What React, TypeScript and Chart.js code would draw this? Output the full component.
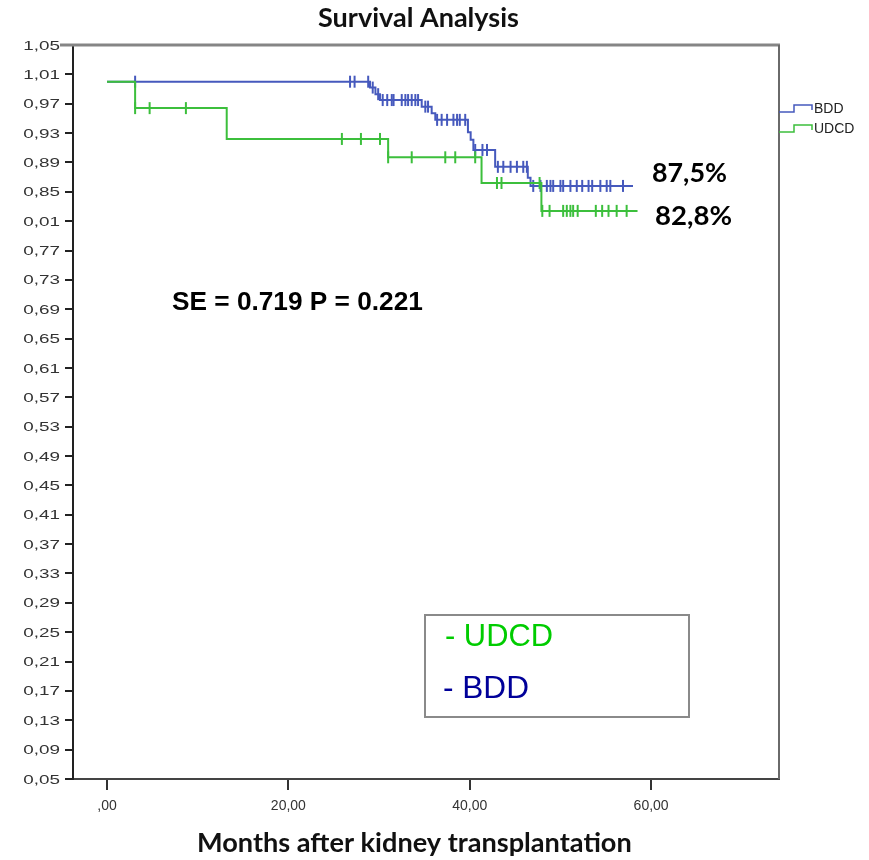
import React, { useEffect, useRef } from "react";
import { Chart, registerables } from "chart.js";
Chart.register(...registerables);

// ---- axis ticks ----
const xTickValues = [0, 20, 40, 60];
const xTickLabels = [",00", "20,00", "40,00", "60,00"];
const yTickValues = [1.05, 1.01, 0.97, 0.93, 0.89, 0.85, 0.81, 0.77, 0.73, 0.69, 0.65, 0.61, 0.57, 0.53, 0.49, 0.45, 0.41, 0.37, 0.33, 0.29, 0.25, 0.21, 0.17, 0.13, 0.09, 0.05];
const yTickLabels = ["1,05", "1,01", "0,97", "0,93", "0,89", "0,85", "0,01", "0,77", "0,73", "0,69", "0,65", "0,61", "0,57", "0,53", "0,49", "0,45", "0,41", "0,37", "0,33", "0,29", "0,25", "0,21", "0,17", "0,13", "0,09", "0,05"];

// ---- BDD survival steps ----
const bddTimes = [0, 29.0, 29.6, 30.1, 34.7, 35.8, 36.2, 39.8, 40.1, 40.4, 42.8, 46.4, 46.7, 58.0];
const bddSurv = [1.0, 0.992, 0.983, 0.975, 0.966, 0.957, 0.948, 0.931, 0.921, 0.907, 0.884, 0.869, 0.858, 0.858];
const bddCensor = [3.1, 26.8, 27.3, 28.8, 29.3, 29.9, 30.4, 30.9, 31.4, 31.6, 32.5, 32.9, 33.2, 33.6, 34.0, 34.3, 35.1, 35.4, 36.4, 36.9, 37.5, 38.2, 38.6, 38.9, 39.5, 40.6, 41.4, 41.9, 43.1, 43.7, 44.5, 45.2, 45.9, 46.3, 47.0, 47.8, 48.5, 48.9, 49.2, 50.0, 50.3, 51.1, 51.8, 52.4, 53.1, 53.5, 54.4, 55.1, 55.5, 56.9];

// ---- UDCD survival steps ----
const udcdTimes = [0, 3.1, 13.2, 31.0, 41.3, 47.9, 58.5];
const udcdSurv = [1.0, 0.964, 0.922, 0.897, 0.862, 0.824, 0.824];
const udcdCensor = [3.1, 4.7, 8.7, 25.9, 28.0, 30.1, 31.0, 33.6, 37.3, 38.4, 40.6, 43.0, 43.5, 47.7, 48.0, 48.8, 50.3, 50.7, 51.1, 51.4, 51.9, 53.9, 54.6, 55.3, 56.2, 57.3];

const seriesNames = ["BDD", "UDCD"];
const BLUE = "#4659bd";
const GREEN = "#3cbf3c";
const ARIAL = "'Liberation Sans', Arial, sans-serif";

function survAt(times: number[], surv: number[], t: number) {
  let s = surv[0];
  for (let i = 0; i < times.length; i++) if (times[i] <= t) s = surv[i];
  return s;
}

function fitText(ctx: CanvasRenderingContext2D, text: string, weight: string, family: string, x0: number, x1: number, cy: number, color: string) {
  ctx.font = `${weight} 20px ${family}`;
  const w = ctx.measureText(text).width;
  const size = (20 * (x1 - x0)) / w;
  ctx.font = `${weight} ${size}px ${family}`;
  ctx.fillStyle = color;
  ctx.textAlign = "left";
  ctx.textBaseline = "middle";
  ctx.fillText(text, x0, cy);
}

const overlay = {
  id: "overlay",
  afterDraw(chart: any) {
    const ctx: CanvasRenderingContext2D = chart.ctx;
    const a = chart.chartArea;
    ctx.save();
    // frame top/right
    ctx.strokeStyle = "#858585";
    ctx.lineWidth = 3;
    ctx.beginPath();
    ctx.moveTo(a.left - 13, a.top);
    ctx.lineTo(a.right + 1, a.top);
    ctx.stroke();
    ctx.strokeStyle = "#6a6a6a";
    ctx.lineWidth = 2;
    ctx.beginPath();
    ctx.moveTo(a.right, a.top);
    ctx.lineTo(a.right, a.bottom);
    ctx.stroke();

    // y tick labels (horizontally stretched as in the reference)
    const ys = chart.scales.y;
    ctx.fillStyle = "#333";
    ctx.font = `13px ${ARIAL}`;
    ctx.textAlign = "right";
    ctx.textBaseline = "middle";
    yTickValues.forEach((v, i) => {
      const py = ys.getPixelForValue(v);
      ctx.save();
      ctx.translate(a.left - 13, py + 1);
      ctx.scale(1.45, 1);
      ctx.fillText(yTickLabels[i], 0, 0);
      ctx.restore();
    });

    const calibri = "Lato, 'Open Sans', sans-serif";
    fitText(ctx, "Survival Analysis", "bold", calibri, 318, 519, 18, "#111");
    fitText(ctx, "Months after kidney transplantation", "bold", calibri, 197, 632, 843, "#111");
    fitText(ctx, "87,5%", "bold", calibri, 652, 727, 173, "#000");
    fitText(ctx, "82,8%", "bold", calibri, 655, 732, 216, "#000");
    fitText(ctx, "SE = 0.719 P = 0.221", "bold", ARIAL, 172, 423, 303, "#000");

    // right legend
    const items = [
      { name: seriesNames[0], color: BLUE, y: 105 },
      { name: seriesNames[1], color: GREEN, y: 125 },
    ];
    items.forEach((it) => {
      ctx.strokeStyle = it.color;
      ctx.lineWidth = 1.5;
      ctx.beginPath();
      ctx.moveTo(779, it.y + 7);
      ctx.lineTo(794, it.y + 7);
      ctx.lineTo(794, it.y);
      ctx.lineTo(812, it.y);
      ctx.lineTo(812, it.y + 5);
      ctx.stroke();
      ctx.fillStyle = "#222";
      ctx.font = `14px ${ARIAL}`;
      ctx.textAlign = "left";
      ctx.textBaseline = "middle";
      ctx.fillText(it.name, 814, it.y + 4);
    });

    // boxed legend
    ctx.strokeStyle = "#8a8a8a";
    ctx.lineWidth = 2;
    ctx.strokeRect(425, 615, 264, 102);
    fitText(ctx, "- " + seriesNames[1], "normal", ARIAL, 445, 553, 637, "#00cc00");
    fitText(ctx, "- " + seriesNames[0], "normal", ARIAL, 443, 529, 689, "#000099");
    ctx.restore();
  },
};

export default function App() {
  const ref = useRef<HTMLCanvasElement | null>(null);
  useEffect(() => {
    if (!ref.current) return;
    const stepData = (t: number[], s: number[]) => t.map((x, i) => ({ x, y: s[i] }));
    const censorData = (c: number[], t: number[], s: number[]) => c.map((x) => ({ x, y: survAt(t, s, x) }));
    const chart = new Chart(ref.current, {
      type: "line",
      data: {
        datasets: [
          {
            label: seriesNames[1],
            data: stepData(udcdTimes, udcdSurv),
            borderColor: GREEN,
            borderWidth: 2,
            stepped: "before",
            pointRadius: 0,
            fill: false,
          },
          {
            label: seriesNames[1] + " censored",
            data: censorData(udcdCensor, udcdTimes, udcdSurv),
            showLine: false,
            pointStyle: "line",
            rotation: 90,
            pointRadius: 6,
            pointBorderWidth: 2,
            pointBorderColor: GREEN,
            borderColor: GREEN,
          },
          {
            label: seriesNames[0],
            data: stepData(bddTimes, bddSurv),
            borderColor: BLUE,
            borderWidth: 2,
            stepped: "before",
            pointRadius: 0,
            fill: false,
          },
          {
            label: seriesNames[0] + " censored",
            data: censorData(bddCensor, bddTimes, bddSurv),
            showLine: false,
            pointStyle: "line",
            rotation: 90,
            pointRadius: 6,
            pointBorderWidth: 2,
            pointBorderColor: BLUE,
            borderColor: BLUE,
          },
        ],
      } as any,
      options: {
        animation: false,
        responsive: false,
        layout: { padding: { top: 45, right: 90, left: 0, bottom: 0 } },
        plugins: { legend: { display: false }, tooltip: { enabled: false }, title: { display: false } },
        scales: {
          x: {
            type: "linear",
            min: -3.75,
            max: 74.1,
            afterBuildTicks: (scale: any) => {
              scale.ticks = xTickValues.map((v) => ({ value: v }));
            },
            afterFit: (scale: any) => {
              scale.height = 81;
            },
            ticks: {
              callback: (_v: any, i: number) => xTickLabels[i],
              font: { family: ARIAL, size: 14 },
              color: "#333",
              padding: 8,
              maxRotation: 0,
              autoSkip: false,
            },
            grid: { drawOnChartArea: false, drawTicks: true, tickLength: 11, color: "#333", lineWidth: 2 },
            border: { display: true, color: "#444", width: 2 },
          },
          y: {
            type: "linear",
            min: 0.05,
            max: 1.05,
            afterBuildTicks: (scale: any) => {
              scale.ticks = yTickValues.map((v) => ({ value: v }));
            },
            afterFit: (scale: any) => {
              scale.width = 73;
            },
            ticks: { display: false },
            grid: { drawOnChartArea: false, drawTicks: true, tickLength: 8, color: "#222", lineWidth: 2 },
            border: { display: true, color: "#222", width: 2 },
          },
        },
      } as any,
      plugins: [overlay],
    });
    return () => chart.destroy();
  }, []);
  return (
    <div style={{ position: "absolute", left: 0, top: 0, width: 869, height: 860, background: "#fff" }}>
      <canvas ref={ref} width={869} height={860} style={{ width: 869, height: 860 }} />
    </div>
  );
}
